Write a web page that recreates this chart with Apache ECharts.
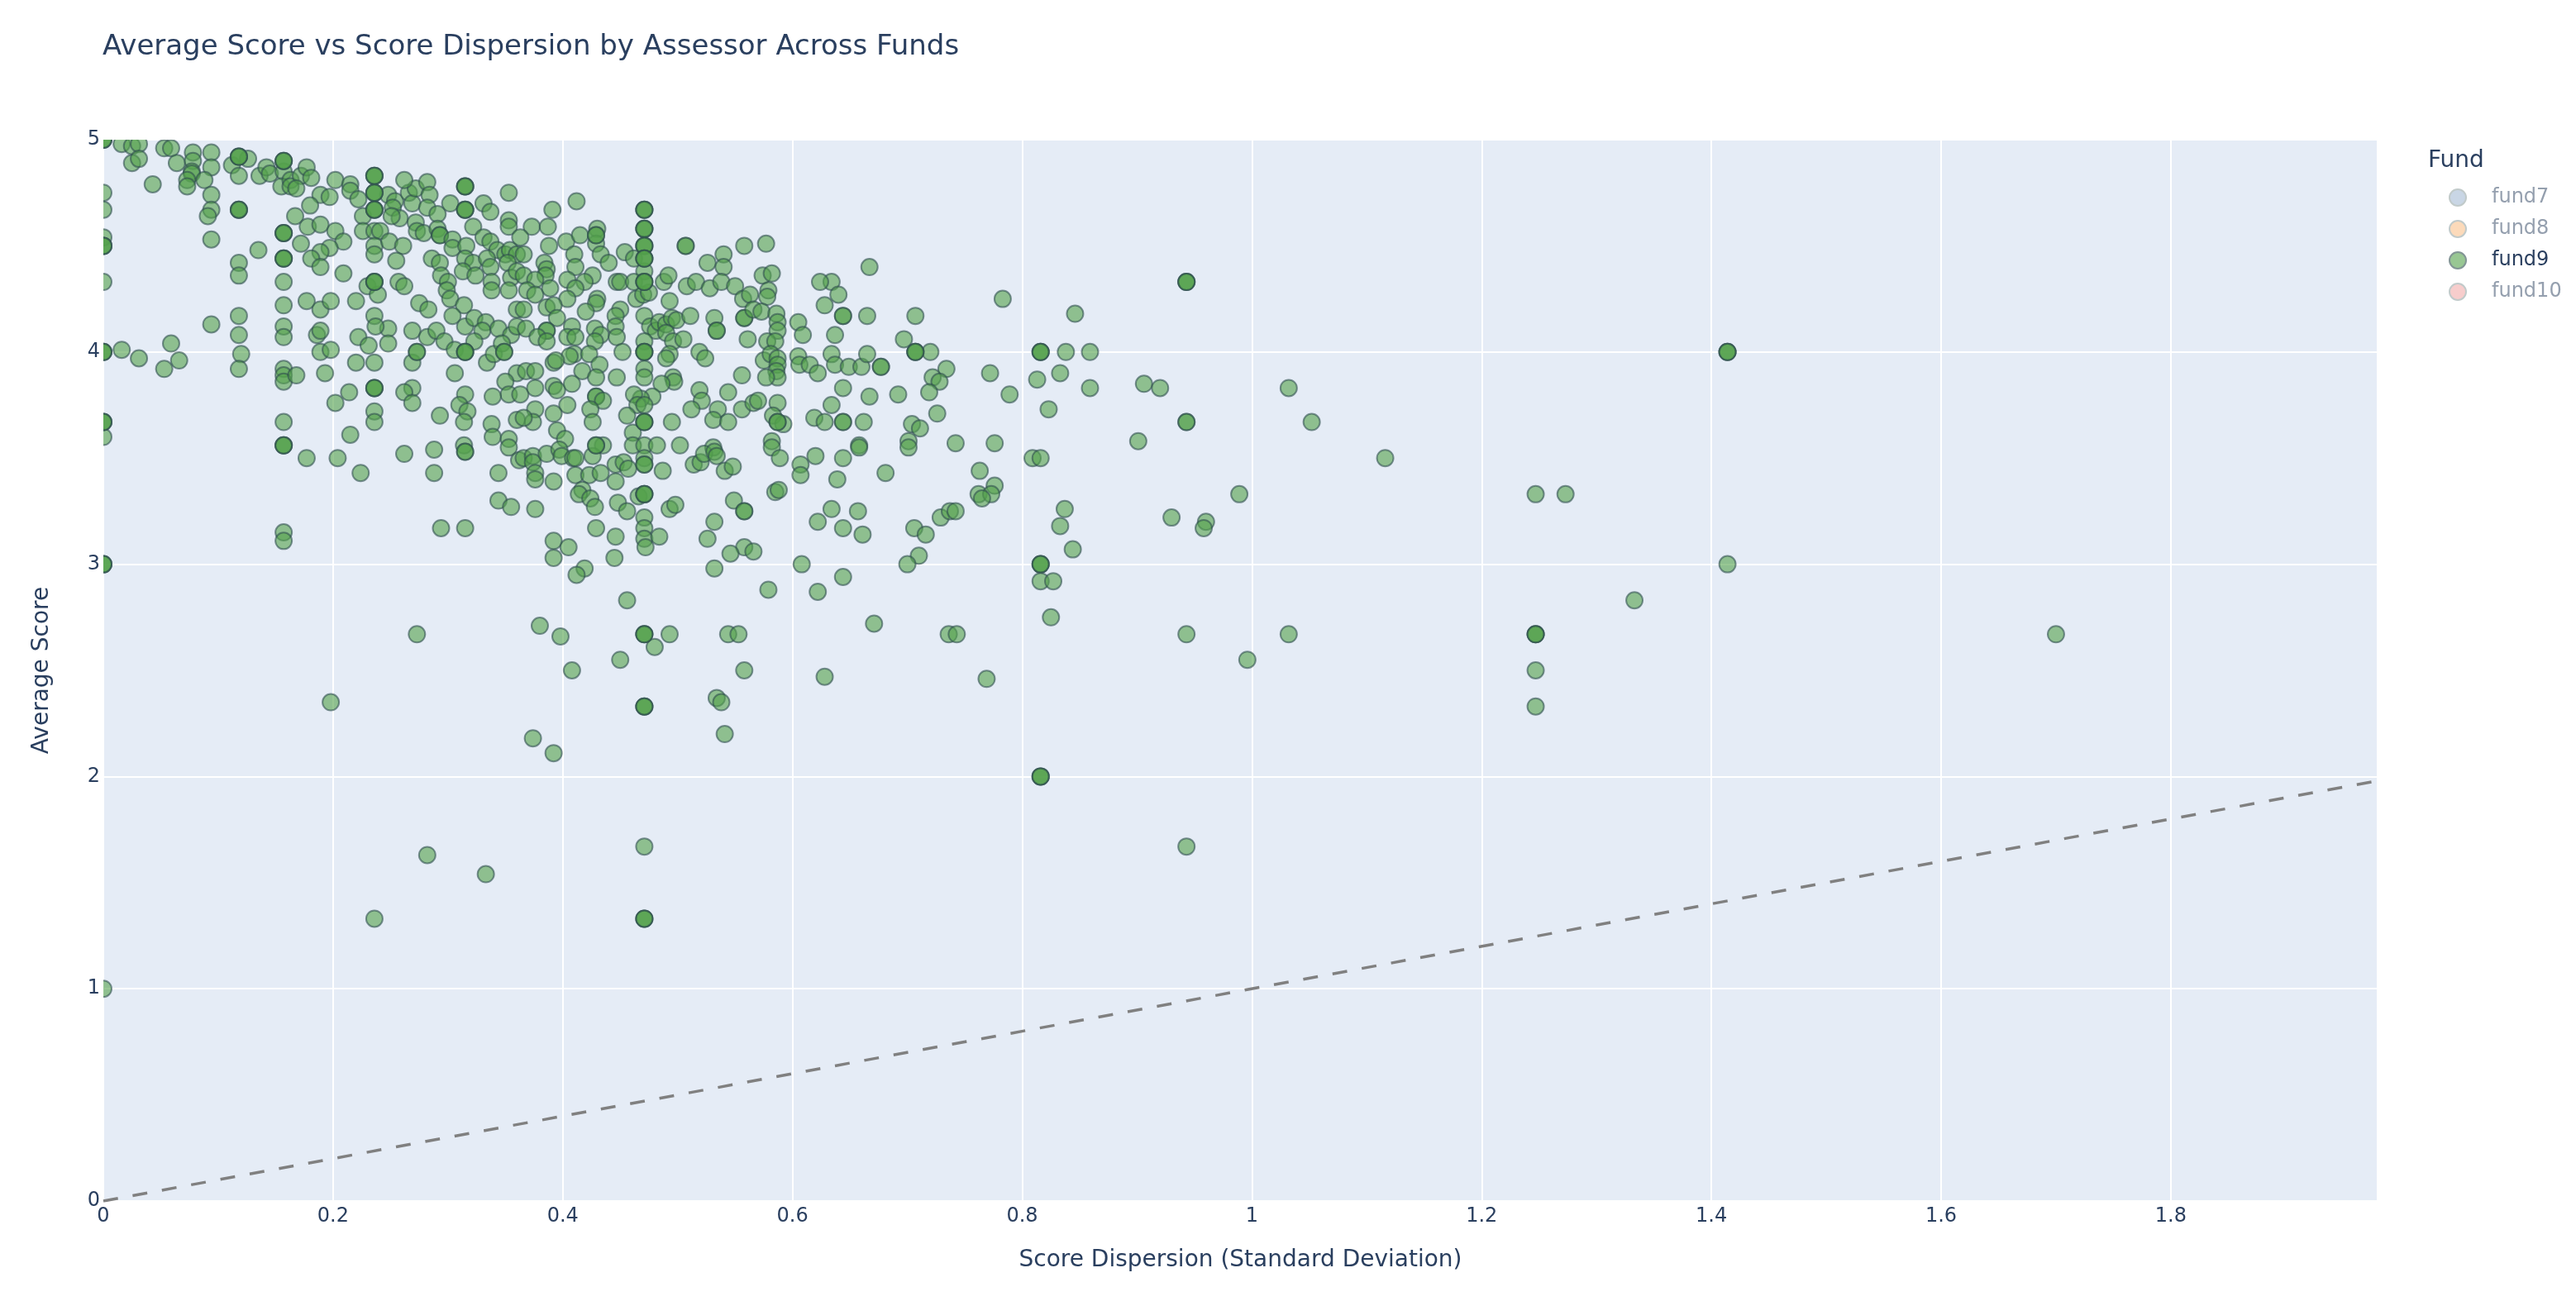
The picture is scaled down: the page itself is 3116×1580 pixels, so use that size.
<!DOCTYPE html>
<html>
<head>
<meta charset="utf-8">
<script src="https://cdn.jsdelivr.net/npm/echarts@6/dist/echarts.min.js"></script>
<style>
  html, body { margin: 0; padding: 0; background: #fff; }
  #chart { width: 3116px; height: 1580px; }
</style>
</head>
<body>
<div id="chart"></div>
<script>
// ---------------- DATA ----------------
const chartTitle = 'Average Score vs Score Dispersion by Assessor Across Funds';
const xAxisTitle = 'Score Dispersion (Standard Deviation)';
const yAxisTitle = 'Average Score';
const legendTitle = 'Fund';
const funds = ['fund7', 'fund8', 'fund9', 'fund10'];
const xTickValues = [0, 0.2, 0.4, 0.6, 0.8, 1, 1.2, 1.4, 1.6, 1.8];
const yTickValues = [0, 1, 2, 3, 4, 5];
const referenceLine = [[0, 0], [1.98, 1.98]];   // y = x reference

// fund7, fund8, fund10 are legend-only (hidden) in the reference picture
const fund7Points = [];
const fund8Points = [];
const fund10Points = [];

// fund9: [score dispersion (sd), average score]
const fund9Points = [
  [0.016,4.98],[0.025,4.97],[0.031,4.98],[0.025,4.89],[0.031,4.91],[0.053,4.96],[0.059,4.96],[0.064,4.89],
  [0.078,4.94],[0.078,4.9],[0.094,4.94],[0.094,4.87],[0.077,4.85],[0.077,4.84],[0.073,4.81],[0.073,4.78],
  [0.088,4.81],[0.043,4.79],[0.126,4.91],[0.112,4.88],[0.118,4.83],[0.136,4.83],[0.142,4.87],[0.145,4.84],
  [0.157,4.85],[0.155,4.78],[0.163,4.81],[0.163,4.78],[0.172,4.83],[0.177,4.87],[0.181,4.82],[0.168,4.77],
  [0.094,4.74],[0.094,4.67],[0.091,4.64],[0.094,4.53],[0,4.75],[0,4.67],[0,4.54],[0,4.33],
  [0.202,4.81],[0.215,4.79],[0.215,4.76],[0.222,4.72],[0.189,4.74],[0.197,4.73],[0.18,4.69],[0.167,4.64],
  [0.178,4.59],[0.189,4.6],[0.202,4.57],[0.172,4.51],[0.209,4.52],[0.197,4.49],[0.189,4.47],[0.181,4.44],
  [0.189,4.4],[0.135,4.48],[0.118,4.42],[0.118,4.36],[0.157,4.33],[0.157,4.22],[0.209,4.37],[0.177,4.24],
  [0.189,4.2],[0.198,4.24],[0.22,4.24],
  [0.226,4.64],[0.226,4.57],[0.236,4.57],[0.241,4.57],[0.236,4.5],[0.236,4.46],[0.249,4.52],[0.261,4.5],
  [0.255,4.43],[0.23,4.31],[0.239,4.27],[0.257,4.33],[0.262,4.31],[0.236,4.17],
  [0.248,4.74],[0.254,4.71],[0.252,4.68],[0.258,4.63],[0.266,4.75],[0.269,4.7],[0.272,4.77],[0.262,4.81],
  [0.282,4.8],[0.284,4.74],[0.282,4.68],[0.291,4.65],[0.302,4.7],[0.272,4.61],[0.273,4.57],[0.279,4.56],
  [0.291,4.58],[0.293,4.55],[0.293,4.55],[0.251,4.64],
  [0.331,4.7],[0.337,4.66],[0.353,4.75],[0.353,4.62],[0.353,4.59],
  [0.304,4.53],[0.304,4.49],[0.316,4.5],[0.322,4.59],[0.331,4.54],[0.337,4.52],[0.343,4.48],[0.35,4.46],
  [0.354,4.48],[0.36,4.46],[0.315,4.44],[0.322,4.42],[0.334,4.44],[0.337,4.4],[0.352,4.42],[0.313,4.38],
  [0.324,4.36],[0.338,4.33],[0.338,4.29],[0.355,4.35],[0.353,4.29],[0.36,4.38],
  [0.286,4.44],[0.293,4.42],[0.294,4.36],[0.3,4.33],[0.299,4.29],[0.302,4.25],[0.314,4.22],[0.304,4.17],
  [0.315,4.12],[0.323,4.16],[0.333,4.14],[0.33,4.1],[0.344,4.11],[0.355,4.08],[0.36,4.2],[0.36,4.12],
  [0.275,4.23],[0.283,4.2],[0.269,4.1],[0.248,4.11],[0.237,4.12],[0.222,4.07],[0.231,4.03],[0.248,4.04],
  [0.282,4.07],[0.29,4.1],[0.297,4.05],[0.306,4.01],
  [0.269,3.95],[0.323,4.05],[0.334,3.95],[0.34,3.99],[0.347,4.04],[0.36,3.9],[0.35,3.86],[0.353,3.8],
  [0.339,3.79],[0.338,3.66],[0.339,3.6],[0.353,3.59],[0.36,3.68],
  [0.306,3.9],[0.315,3.8],[0.31,3.75],[0.317,3.72],[0.314,3.67],[0.293,3.7],[0.314,3.56],
  [0.269,3.83],[0.262,3.81],[0.269,3.76],[0.236,3.72],[0.236,3.67],[0.214,3.81],[0.202,3.76],[0.215,3.61],
  [0.22,3.95],[0.236,3.95],[0.189,4.0],[0.198,4.01],[0.193,3.9],[0.186,4.08],[0.189,4.1],[0.157,4.12],
  [0.157,4.07],[0.157,3.92],[0.157,3.89],[0.157,3.86],[0.168,3.89],[0.157,3.67],[0.118,4.17],[0.118,4.08],
  [0.12,3.99],[0.118,3.92],[0.094,4.13],[0.059,4.04],[0.066,3.96],[0.053,3.92],[0.031,3.97],[0.016,4.01],
  [0,3.6],
  [0.391,4.67],[0.412,4.71],[0.373,4.59],[0.387,4.59],[0.363,4.54],[0.403,4.52],[0.415,4.55],[0.43,4.58],
  [0.429,4.51],[0.388,4.5],[0.366,4.46],[0.41,4.46],[0.384,4.42],[0.386,4.39],[0.385,4.36],[0.411,4.4],
  [0.433,4.46],[0.44,4.42],[0.454,4.47],[0.462,4.44],[0.471,4.38],
  [0.447,4.33],[0.45,4.33],[0.462,4.33],[0.426,4.36],[0.419,4.33],[0.404,4.34],[0.366,4.36],[0.376,4.34],
  [0.369,4.29],[0.376,4.27],[0.389,4.3],[0.411,4.3],[0.464,4.25],[0.47,4.27],[0.475,4.28],[0.493,4.24],
  [0.488,4.33],[0.492,4.36],[0.508,4.31],[0.516,4.33],[0.526,4.42],[0.54,4.46],[0.54,4.4],[0.558,4.5],
  [0.577,4.51],[0.528,4.3],[0.538,4.33],[0.55,4.31],[0.557,4.25],[0.563,4.27],[0.574,4.36],[0.582,4.37],
  [0.579,4.29],[0.578,4.26],
  [0.404,4.25],[0.43,4.25],[0.429,4.23],[0.366,4.2],[0.386,4.21],[0.392,4.22],[0.42,4.19],[0.45,4.2],
  [0.446,4.17],[0.395,4.16],[0.368,4.11],[0.386,4.1],[0.386,4.1],[0.378,4.07],[0.386,4.05],[0.408,4.12],
  [0.404,4.07],[0.411,4.07],[0.428,4.11],[0.433,4.08],[0.428,4.05],[0.446,4.12],[0.447,4.07],
  [0.471,4.17],[0.476,4.12],[0.481,4.1],[0.484,4.14],[0.49,4.13],[0.495,4.16],[0.499,4.15],[0.49,4.09],
  [0.496,4.05],[0.505,4.06],[0.511,4.17],[0.532,4.16],[0.534,4.1],[0.534,4.1],[0.558,4.16],[0.558,4.16],
  [0.566,4.2],[0.573,4.19],[0.586,4.18],[0.587,4.14],[0.587,4.1],[0.561,4.06],[0.578,4.05],[0.585,4.05],
  [0.605,4.14],[0.609,4.08],
  [0.471,4.05],[0.452,4.0],[0.41,3.99],[0.406,3.98],[0.423,3.99],[0.392,3.95],[0.394,3.96],[0.432,3.94],
  [0.417,3.91],[0.429,3.88],[0.368,3.91],[0.376,3.91],[0.519,4.0],[0.524,3.97],[0.471,3.92],[0.471,3.88],
  [0.493,3.99],[0.49,3.97],[0.496,3.88],[0.497,3.86],[0.486,3.85],[0.447,3.88],
  [0.575,3.96],[0.581,3.99],[0.587,3.97],[0.587,3.94],[0.586,3.91],[0.587,3.88],[0.577,3.88],[0.556,3.89],
  [0.605,3.98],[0.606,3.94],[0.615,3.94],[0.622,3.9],
  [0.634,4.33],[0.624,4.33],[0.64,4.27],[0.628,4.22],[0.667,4.4],[0.665,4.17],[0.707,4.17],[0.637,4.08],
  [0.634,3.99],[0.637,3.94],[0.649,3.93],[0.66,3.93],[0.665,3.99],[0.697,4.06],[0.72,4.0],[0.734,3.92],
  [0.722,3.88],[0.728,3.86],[0.644,3.83],[0.667,3.79],[0.692,3.8],[0.719,3.81],[0.634,3.75],[0.619,3.69],
  [0.628,3.67],[0.662,3.67],[0.704,3.66],[0.711,3.64],[0.726,3.71],[0.701,3.58],[0.658,3.56],
  [0.519,3.82],[0.521,3.77],[0.544,3.81],[0.535,3.73],[0.512,3.73],[0.531,3.68],[0.544,3.67],[0.556,3.73],
  [0.566,3.76],[0.57,3.77],[0.587,3.76],[0.583,3.7],[0.592,3.66],[0.582,3.58],[0.495,3.67],[0.478,3.79],
  [0.468,3.78],[0.462,3.8],[0.465,3.75],[0.471,3.75],[0.456,3.7],[0.461,3.62],[0.429,3.79],[0.429,3.79],
  [0.435,3.77],[0.424,3.73],[0.426,3.67],[0.404,3.75],[0.392,3.71],[0.376,3.73],[0.374,3.67],[0.366,3.69],
  [0.363,3.8],[0.392,3.84],[0.395,3.82],[0.408,3.85],[0.376,3.83],[0.395,3.63],[0.402,3.59],
  [0.435,3.56],[0.461,3.56],[0.471,3.56],[0.482,3.56],[0.502,3.56],[0.531,3.55],[0.582,3.55],
  [0.177,3.5],[0.204,3.5],[0.224,3.43],[0.262,3.52],[0.288,3.54],[0.288,3.43],[0.353,3.55],[0.362,3.49],
  [0.344,3.43],[0.344,3.3],[0.355,3.27],[0.294,3.17],[0.315,3.17],[0.157,3.15],[0.157,3.11],[0.273,2.67],
  [0.198,2.35],
  [0.366,3.5],[0.374,3.51],[0.374,3.48],[0.386,3.52],[0.397,3.54],[0.399,3.51],[0.409,3.5],[0.411,3.5],
  [0.426,3.51],[0.471,3.5],[0.376,3.43],[0.376,3.4],[0.392,3.39],[0.411,3.42],[0.423,3.42],[0.433,3.43],
  [0.446,3.47],[0.453,3.48],[0.457,3.45],[0.446,3.39],[0.487,3.44],[0.514,3.47],[0.52,3.48],[0.523,3.52],
  [0.532,3.53],[0.534,3.51],[0.541,3.44],[0.548,3.46],[0.589,3.5],[0.607,3.47],[0.607,3.42],[0.62,3.51],
  [0.644,3.5],[0.639,3.4],[0.658,3.55],[0.681,3.43],[0.701,3.55],
  [0.466,3.32],[0.417,3.35],[0.414,3.33],[0.424,3.31],[0.428,3.27],[0.376,3.26],[0.448,3.29],[0.456,3.25],
  [0.471,3.22],[0.471,3.17],[0.471,3.12],[0.472,3.08],[0.484,3.13],[0.429,3.17],[0.446,3.13],[0.392,3.11],
  [0.405,3.08],[0.392,3.03],[0.445,3.03],[0.419,2.98],[0.412,2.95],[0.493,3.26],[0.498,3.28],[0.532,3.2],
  [0.526,3.12],[0.532,2.98],[0.549,3.3],[0.558,3.08],[0.566,3.06],[0.546,3.05],[0.585,3.34],[0.588,3.35],
  [0.608,3.0],[0.579,2.88],[0.622,3.2],[0.634,3.26],[0.644,3.17],[0.657,3.25],[0.661,3.14],[0.644,2.94],
  [0.622,2.87],[0.706,3.17],[0.716,3.14],[0.71,3.04],[0.7,3.0],[0.729,3.22],[0.737,3.25],
  [0.456,2.83],[0.38,2.71],[0.398,2.66],[0.493,2.67],[0.48,2.61],[0.45,2.55],[0.408,2.5],[0.544,2.67],
  [0.553,2.67],[0.558,2.5],[0.671,2.72],[0.736,2.67],[0.628,2.47],[0.534,2.37],[0.538,2.35],[0.541,2.2],
  [0.374,2.18],[0.392,2.11],
  [0.783,4.25],[0.846,4.18],[0.838,4.0],[0.859,4.0],[0.772,3.9],[0.789,3.8],[0.813,3.87],[0.833,3.9],
  [0.859,3.83],[0.823,3.73],[0.906,3.85],[0.92,3.83],[0.901,3.58],[1.032,3.83],[1.052,3.67],[1.116,3.5],
  [0.742,3.57],[0.776,3.57],[0.809,3.5],[0.816,3.5],[0.763,3.44],[0.776,3.37],[0.762,3.33],[0.773,3.33],
  [0.765,3.31],[0.742,3.25],[0.837,3.26],[0.833,3.18],[0.844,3.07],[0.93,3.22],[0.96,3.2],[0.958,3.17],
  [0.989,3.33],[0.816,2.92],[0.827,2.92],[0.825,2.75],[0.743,2.67],[0.769,2.46],[0.943,2.67],[1.032,2.67],
  [0.996,2.55],
  [0.282,1.63],[0.236,1.33],[0.333,1.54],[0.471,1.67],[0.943,1.67],[0,1.0],[1.247,3.33],[1.273,3.33],
  [1.247,2.5],[1.247,2.33],[1.333,2.83],[1.414,3.0],[1.7,2.67]
];

// fund9 points where several assessors share the same value: [sd, average, number of assessors]
const fund9Stacked = [
  [0,5,3],[0.118,4.92,3],[0.157,4.9,3],[0.118,4.67,3],[0,4.5,3],[0.157,4.56,3],[0.157,4.44,3],
  [0.236,4.83,3],[0.236,4.75,3],[0.236,4.67,3],[0.236,4.33,3],[0.315,4.78,3],[0.315,4.67,3],
  [0.273,4.0,2],[0.315,4.0,3],[0.349,4.0,2],[0.236,3.83,3],[0.157,3.56,3],[0,4.0,3],[0,3.67,3],
  [0.429,4.55,2],[0.471,4.67,3],[0.471,4.58,3],[0.471,4.5,3],[0.471,4.44,3],[0.471,4.33,3],[0.507,4.5,2],
  [0.471,4.0,3],[0.644,4.17,2],[0.677,3.93,2],[0.707,4.0,3],[0.644,3.67,2],[0.587,3.67,2],[0.471,3.67,3],
  [0.429,3.56,2],[0.315,3.53,2],[0,3.0,3],[0.471,3.47,2],[0.471,3.33,3],[0.558,3.25,2],[0.471,2.67,3],
  [0.471,2.33,3],[0.943,4.33,3],[0.816,4.0,3],[0.943,3.67,2],[0.816,3.0,3],[0.471,1.33,3],[0.816,2.0,3],
  [1.247,2.67,3],[1.414,4.0,3]
];

// ---------------- CHART ----------------
const fund9Data = fund9Points.slice();
fund9Stacked.forEach(([sd, avg, n]) => { for (let i = 0; i < n; i++) fund9Data.push([sd, avg]); });

const fundData = { fund7: fund7Points, fund8: fund8Points, fund9: fund9Data, fund10: fund10Points };
const fundColors = { fund7: '#4C78A8', fund8: '#F58518', fund9: '#54A24B', fund10: '#E45756' };
const legendFill = { fund7: '#c9d6e5', fund8: '#fcdaba', fund9: '#98c793', fund10: '#f7cdcc' };
const legendBorder = { fund7: '#c1caca', fund8: '#c1caca', fund9: '#829595', fund10: '#c1caca' };
const legendText = { fund7: '#949fae', fund8: '#949fae', fund9: '#2a3f5f', fund10: '#949fae' };

const FONT = '"DejaVu Sans", Verdana, sans-serif';
const chart = echarts.init(document.getElementById('chart'), null, { renderer: 'canvas' });

const fundSeries = funds.map(name => ({
  name,
  type: 'custom',
  data: fundData[name],
  clip: true,
  encode: { x: 0, y: 1 },
  silent: true,
  renderItem: (params, api) => {
    const p = api.coord([api.value(0), api.value(1)]);
    return {
      type: 'circle',
      shape: { cx: p[0], cy: p[1], r: 10 },
      style: { fill: fundColors[name], stroke: '#2F4F4F', lineWidth: 2, opacity: 0.6 }
    };
  }
}));

const option = {
  backgroundColor: '#ffffff',
  animation: false,
  textStyle: { fontFamily: FONT },
  title: [
    { text: chartTitle, left: 119, top: 35, padding: 5,
      textStyle: { fontFamily: FONT, fontSize: 34, fontWeight: 'normal', color: '#2a3f5f' } },
    { text: legendTitle, left: 2932, top: 176, padding: 5,
      textStyle: { fontFamily: FONT, fontSize: 28, fontWeight: 'normal', color: '#2a3f5f' } }
  ],
  grid: { left: 125, right: 240, top: 169, bottom: 127, show: true,
          backgroundColor: '#E5ECF6', borderWidth: 0, containLabel: false },
  legend: {
    orient: 'vertical', left: 2957, top: 222, padding: 5,
    itemWidth: 20, itemHeight: 20, itemGap: 14,
    selectedMode: false,
    textStyle: { fontFamily: FONT, fontSize: 24, color: '#2a3f5f', padding: [0, 0, 0, 26] },
    data: funds.map(name => ({
      name, icon: 'circle',
      itemStyle: { color: legendFill[name], borderColor: legendBorder[name], borderWidth: 2, opacity: 1 },
      textStyle: { color: legendText[name] }
    }))
  },
  xAxis: {
    type: 'value', min: 0, max: referenceLine[1][0], interval: 0.2,
    name: xAxisTitle, nameLocation: 'middle', nameGap: 58,
    nameTextStyle: { fontFamily: FONT, fontSize: 28, color: '#2a3f5f' },
    axisLine: { show: false }, axisTick: { show: false },
    axisLabel: { fontFamily: FONT, fontSize: 24, color: '#2a3f5f', margin: 7, showMaxLabel: false,
      formatter: v => xTickValues.some(t => Math.abs(t - v) < 1e-9) ? String(+v.toFixed(1)) : '' },
    splitLine: { show: true, lineStyle: { color: '#ffffff', width: 2 } }
  },
  yAxis: {
    type: 'value', min: yTickValues[0], max: yTickValues[yTickValues.length - 1], interval: 1,
    name: yAxisTitle, nameLocation: 'middle', nameGap: 60, nameRotate: 90,
    nameTextStyle: { fontFamily: FONT, fontSize: 28, color: '#2a3f5f' },
    axisLine: { show: false }, axisTick: { show: false },
    axisLabel: { fontFamily: FONT, fontSize: 24, color: '#2a3f5f', margin: 4 },
    splitLine: { show: true, lineStyle: { color: '#ffffff', width: 2 } }
  },
  series: fundSeries.concat([{
    name: 'reference', type: 'line', data: referenceLine, symbol: 'none', silent: true,
    clip: true, z: 3,
    lineStyle: { color: '#808080', width: 3.5, type: [18, 18] }
  }])
};

chart.setOption(option);
</script>
</body>
</html>
